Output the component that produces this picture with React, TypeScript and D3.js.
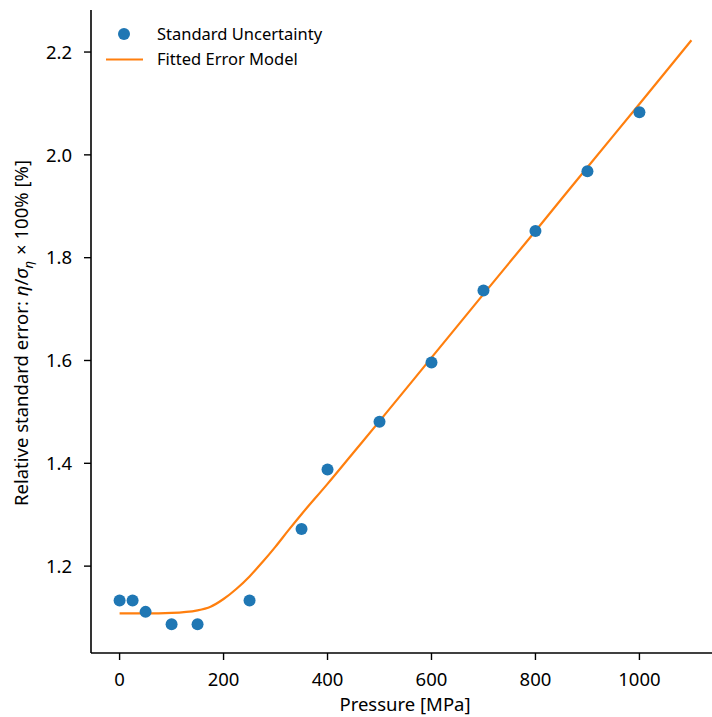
import React from "react";
import * as d3 from "d3";

// Measured standard uncertainty at each pressure
const pressures = [0, 25, 50, 100, 150, 250, 350, 400, 500, 600, 700, 800, 900, 1000];
const uncertainty = [1.133, 1.133, 1.111, 1.087, 1.087, 1.133, 1.272, 1.388, 1.481, 1.596, 1.736, 1.852, 1.968, 2.083];

// Fitted error model sampled along pressure
const modelPressure = [0, 50, 100, 150, 175, 200, 225, 250, 275, 300, 325, 350, 400, 450, 500, 600, 700, 800, 900, 1000, 1100];
const modelError = [1.108, 1.108, 1.109, 1.114, 1.121, 1.136, 1.156, 1.18, 1.208, 1.238, 1.27, 1.301, 1.36, 1.421, 1.482, 1.6055, 1.729, 1.852, 1.976, 2.099, 2.223];

const xTicks = [0, 200, 400, 600, 800, 1000];
const yTicks = [1.2, 1.4, 1.6, 1.8, 2.0, 2.2];

const W = 712;
const H = 717;
const FONT = "'Noto Sans', 'DejaVu Sans', sans-serif";
const BLUE = "#1f77b4";
const ORANGE = "#ff7f0e";

export default function App() {
  const x = d3.scaleLinear().domain([-55, 1155]).range([91, 720]);
  const y = d3.scaleLinear().domain([1.031, 2.281]).range([653, 10.4]);
  const left = 91;
  const bottom = 653;
  const top = 10;

  const line = d3
    .line<number>()
    .x((_, i) => x(modelPressure[i]))
    .y((d) => y(d))
    .curve(d3.curveMonotoneX);

  return (
    <svg
      width={W}
      height={H}
      style={{ position: "absolute", left: 0, top: 0, background: "#fff" }}
      fontFamily={FONT}
    >
      <rect x={0} y={0} width={W} height={H} fill="#fff" />

      {/* model curve */}
      <path d={line(modelError) || ""} fill="none" stroke={ORANGE} strokeWidth={2.2} />

      {/* measured points */}
      {pressures.map((p, i) => (
        <circle key={i} cx={x(p)} cy={y(uncertainty[i])} r={6} fill={BLUE} />
      ))}

      {/* spines */}
      <line x1={left} x2={left} y1={top} y2={bottom} stroke="#000" strokeWidth={1.6} />
      <line x1={left} x2={W} y1={bottom} y2={bottom} stroke="#000" strokeWidth={1.6} />

      {/* x axis ticks */}
      {xTicks.map((t) => (
        <g key={t} transform={`translate(${x(t)},${bottom})`}>
          <line y1={0} y2={7} stroke="#000" strokeWidth={1.4} />
          <text y={33} textAnchor="middle" fontSize={18.5} fill="#000">
            {t}
          </text>
        </g>
      ))}

      {/* y axis ticks */}
      {yTicks.map((t) => (
        <g key={t} transform={`translate(${left},${y(t)})`}>
          <line x1={0} x2={-7} stroke="#000" strokeWidth={1.4} />
          <text x={-19} dy="0.36em" textAnchor="end" fontSize={18.5} fill="#000">
            {t.toFixed(1)}
          </text>
        </g>
      ))}

      {/* axis titles */}
      <text x={405} y={711} textAnchor="middle" fontSize={18.5} fill="#000">
        Pressure [MPa]
      </text>
      <text
        transform={`translate(28,333) rotate(-90)`}
        textAnchor="middle"
        fontSize={18.5}
        fill="#000"
      >
        Relative standard error: <tspan fontStyle="italic">η</tspan>/
        <tspan fontStyle="italic">σ</tspan>
        <tspan fontStyle="italic" fontSize={13} dy={5}>η</tspan>
        <tspan dy={-5} dx={6}>× 100% [%]</tspan>
      </text>

      {/* legend */}
      <circle cx={124} cy={34} r={6} fill={BLUE} />
      <text x={157} y={34} dy="0.36em" fontSize={16.5} fill="#000">
        Standard Uncertainty
      </text>
      <line x1={106} x2={143} y1={59.5} y2={59.5} stroke={ORANGE} strokeWidth={2.2} />
      <text x={157} y={59.5} dy="0.36em" fontSize={16.5} fill="#000">
        Fitted Error Model
      </text>
    </svg>
  );
}
